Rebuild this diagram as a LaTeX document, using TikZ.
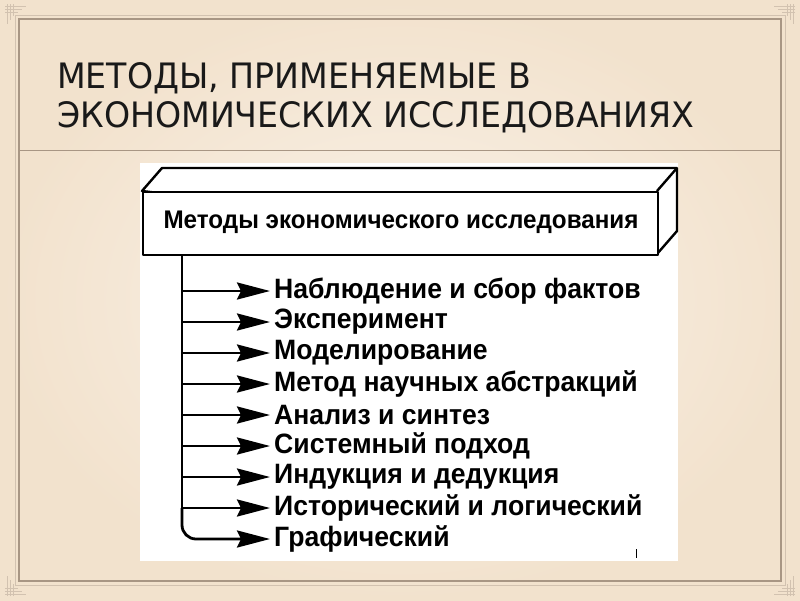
\documentclass[tikz,border=0pt]{standalone}
\usepackage{fontspec}
\usetikzlibrary{arrows.meta}
\newfontfamily\titlefont[FakeStretch=0.95]{DejaVu Sans}
\newfontfamily\boldarial[FakeStretch=0.95]{Liberation Sans Bold}
\definecolor{bgin}{HTML}{FAF3EA}
\definecolor{bgout}{HTML}{F2E2CD}
\definecolor{framec}{HTML}{A89684}
\definecolor{framel}{HTML}{D2C2B0}
\tikzset{
  itemtext/.style={anchor=west, inner sep=0pt, font=\boldarial\fontsize{28}{30}\selectfont},
  arr/.style={line width=2.8pt, shorten >=4pt, -{Stealth[length=33pt,width=17pt,inset=4pt]}},
  boxline/.style={line width=2.4pt, line join=round},
  orn/.style={framel, line width=0.8pt}
}
\begin{document}
\begin{tikzpicture}[x=1pt,y=-1pt]
\useasboundingbox (0,0) rectangle (800,600);
\shade[inner color=bgin, outer color=bgout] (0,0) rectangle (800,600);
% frame
\draw[framel, line width=0.8pt] (15,15) rectangle (785,585);
\draw[framec, line width=1.6pt] (19,19) rectangle (781,581);
\draw[framec, line width=0.8pt] (19,150) -- (781,150);
% corner ornaments
\foreach \cx/\cy/\sx/\sy in {0/0/1/1, 800/0/-1/1, 0/600/1/-1, 800/600/-1/-1}{
  \begin{scope}[shift={(\cx,\cy)}, xscale=\sx, yscale=\sy]
    \draw[orn] (5,6) -- (26,6) (5,9) -- (22,9) (5,12) -- (18,12);
    \draw[orn] (7,4) -- (7,24) (10,4) -- (10,20) (13,4) -- (13,16);
  \end{scope}
}
% title
\node[anchor=base west, inner sep=0pt, font=\titlefont\fontsize{35}{40}\selectfont, text=black!90] (t1) at (57,88) {МЕТОДЫ, ПРИМЕНЯЕМЫЕ В};
\node[anchor=base west, inner sep=0pt, font=\titlefont\fontsize{35}{40}\selectfont, text=black!90] (t2) at (57,127) {ЭКОНОМИЧЕСКИХ ИССЛЕДОВАНИЯХ};
% white panel
\fill[white] (140,163) rectangle (678,561);
% 3D box
\draw[boxline, fill=white] (142,191) -- (162,168) -- (677,168) -- (677,231) -- (657,254) -- cycle;
\draw[boxline] (657,191) -- (677,168);
\node[boxline, draw, fill=white, minimum width=515pt, minimum height=63pt, inner sep=0pt, anchor=north west] (hdr) at (142,191) {};
\node[inner sep=0pt, font=\boldarial\fontsize{25.5}{27}\selectfont] (hdrt) at (401,222) {Методы экономического исследования};
% items
\foreach \i/\t in {1/Наблюдение и сбор фактов, 2/Эксперимент, 3/Моделирование, 4/Метод научных абстракций, 5/Анализ и синтез, 6/Системный подход, 7/Индукция и дедукция, 8/Исторический и логический, 9/Графический}{
  \node[itemtext] (it\i) at (274,{291+(\i-1)*31}) {\t};
  \coordinate (s\i) at (182,{291+(\i-1)*31});
}
\coordinate (top) at (182,254);
\draw[line width=2.8pt] (top) -- (s8);
\foreach \i in {1,...,8}{ \draw[arr] (s\i) -- (it\i.west); }
\draw[arr, rounded corners=14pt] (s8) -- (s9) -- (it9.west);
% small tick
\draw[line width=0.8pt] (636,549) -- (636,558);
\end{tikzpicture}
\end{document}
